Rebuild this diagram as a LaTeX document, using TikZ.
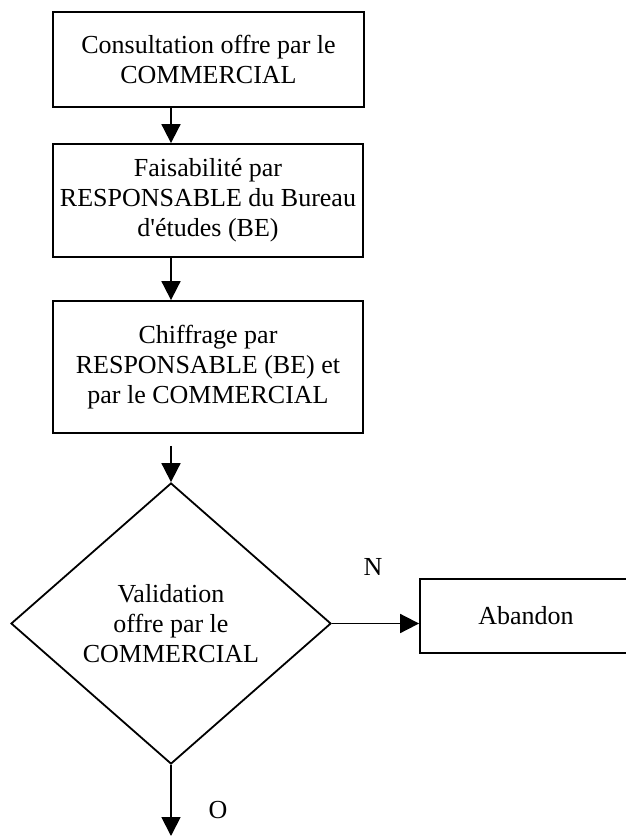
\documentclass[tikz,border=0pt]{standalone}
\usepackage{fontspec}
\setmainfont{Liberation Serif}
\usetikzlibrary{shapes.geometric,arrows.meta}
\begin{document}
\begin{tikzpicture}[x=1pt,y=-1pt,
  every node/.style={font=\fontsize{26}{30}\selectfont, inner sep=0pt},
  box/.style={draw, line width=1.8pt, rectangle, align=center},
  dec/.style={draw, line width=1.8pt, diamond, align=center, minimum width=320pt, minimum height=281pt},
  arr/.style={line width=1.8pt, -{Triangle[length=19pt,width=19pt]}}]
\useasboundingbox (0,0) rectangle (626,836);
\node[box, minimum width=311pt, minimum height=95pt] (b1) at (208.5,59.5)
  {Consultation offre par le\\COMMERCIAL};
\node[box, minimum width=310pt, minimum height=113pt] (b2) at (208,200.5)
  {Faisabilité par\\RESPONSABLE du Bureau\\d\textquotesingle études (BE)};
\node[box, minimum width=310pt, minimum height=132pt] (b3) at (208,367)
  {Chiffrage par\\RESPONSABLE (BE) et\\par le COMMERCIAL};
\node[dec] (d) at (171,623.5) {Validation\\offre par le\\COMMERCIAL};
\node[box, minimum width=212pt, minimum height=74pt] (ab) at (526,616) {Abandon};
\coordinate (end) at (171,836);
\node (n) at (373,567) {N};
\node (o) at (218,810) {O};
\draw[arr] (b1.south -| d.north) -- (b2.north -| d.north);
\draw[arr] (b2.south -| d.north) -- (b3.north -| d.north);
\draw[arr] ([yshift=-12pt]b3.south -| d.north) -- (d.north);
\draw[arr] (d.east) -- (d.east -| ab.west);
\draw[arr] (d.south) -- (end);
\end{tikzpicture}
\end{document}
